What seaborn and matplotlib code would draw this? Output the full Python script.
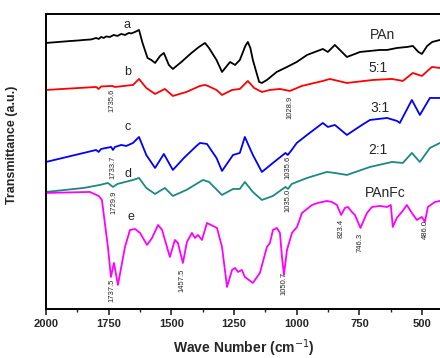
import numpy as np
import pandas as pd
import matplotlib
matplotlib.use("Agg")
import matplotlib.pyplot as plt
import seaborn as sns
from matplotlib.ticker import MultipleLocator

# FTIR spectra (wavenumber, transmittance in arbitrary units)
wn_a = [2000, 1950, 1900, 1870, 1850, 1820, 1800, 1790, 1780, 1770, 1760, 1745, 1730, 1715, 1700,
        1685, 1670, 1660, 1645, 1629, 1615, 1595, 1580, 1565, 1545, 1530, 1510, 1494, 1460, 1420,
        1390, 1366, 1350, 1320, 1298, 1266, 1246, 1227, 1205, 1195, 1185, 1175, 1150, 1139, 1119, 1080, 1039,
        1000, 959, 896, 876, 848, 820, 800, 768, 748, 708, 668, 640, 600, 560, 537, 515, 501,
        480, 460, 429]
t_a = [265, 266, 267, 267.5, 268, 268.5, 270, 269, 271, 270, 271.5, 271, 273, 272, 274,
       273, 275, 274.5, 276, 278, 265, 250, 248, 245, 252, 255, 243, 239, 246, 255,
       261, 265, 260, 248, 236, 246, 243, 248, 262, 266, 260, 248, 226, 225, 228, 236, 241,
       246, 253, 259, 256, 263, 256, 251, 254, 256, 257, 258, 258, 260, 261, 262, 256, 254,
       262, 266, 268]

wn_b = [2000, 1900, 1800, 1790, 1780, 1735, 1725, 1653, 1629, 1600, 1565, 1526, 1494, 1440,
        1386, 1366, 1354, 1320, 1298, 1258, 1227, 1195, 1170, 1139, 1107, 1067, 1027, 980,
        896, 868, 800, 696, 620, 577, 537, 501, 461, 429]
t_b = [218, 219.5, 221, 219, 221.5, 222, 221, 223, 229, 220, 214, 219, 212, 216,
       222, 223, 222, 218, 213, 218, 219, 227, 220, 216, 218, 219, 217, 222,
       227, 229, 225, 228, 229, 227, 235, 232, 241, 240]

wn_c = [2000, 1900, 1800, 1790, 1780, 1740, 1733, 1725, 1700, 1680, 1653, 1629, 1600, 1565,
        1530, 1494, 1450, 1400, 1386, 1358, 1320, 1298, 1254, 1227, 1207, 1175, 1139, 1095,
        1045, 1036, 1020, 1000, 959, 896, 876, 848, 800, 740, 708, 640, 600, 589, 541, 509,
        469, 429]
t_c = [146, 152, 158, 156, 159, 161, 158, 161, 163, 162, 165, 171, 153, 140,
       154, 138, 150, 162, 165, 164, 150, 137, 153, 155, 171, 153, 136, 145,
       155, 153, 158, 165, 173, 185, 181, 183, 173, 183, 188, 190, 187, 185, 208, 193,
       210, 210]

wn_d = [2000, 1850, 1785, 1753, 1733, 1715, 1653, 1629, 1600, 1565, 1526, 1494, 1440, 1374,
        1350, 1298, 1254, 1227, 1207, 1175, 1139, 1095, 1045, 1035, 1020, 959, 880, 848,
        800, 708, 620, 577, 541, 509, 469, 429]
t_d = [116, 120, 123, 125, 121, 124, 128, 130, 120, 114, 120, 112, 118, 128,
       126, 113, 119, 119, 126, 116, 108, 112, 121, 119, 124, 130, 136, 135,
       133, 141, 146, 145, 155, 146, 160, 165]

wn_e = [2000, 1825, 1790, 1777, 1753, 1741, 1729, 1713, 1685, 1665, 1645, 1625, 1597, 1577,
        1553, 1537, 1506, 1486, 1474, 1454, 1438, 1418, 1406, 1394, 1378, 1358, 1318, 1298,
        1278, 1258, 1246, 1234, 1219, 1207, 1175, 1147, 1119, 1107, 1095, 1079, 1067, 1059,
        1051, 1039, 1019, 999, 979, 939, 916, 880, 860, 840, 823, 808, 796, 780, 768, 746,
        720, 700, 668, 640, 625, 617, 601, 581, 569, 561, 541, 521, 501, 489, 477, 449, 429]
t_e = [115, 116, 112, 108, 61, 31, 45, 23, 61, 78, 79, 75, 63, 70,
       83, 78, 51, 68, 65, 45, 66, 75, 70, 73, 68, 85, 80, 61,
       21, 38, 40, 36, 38, 31, 25, 35, 61, 65, 78, 80, 75, 51,
       33, 58, 75, 81, 95, 103, 105, 107, 106, 103, 93, 100, 101, 96, 93, 80,
       95, 101, 102, 101, 103, 81, 90, 96, 100, 103, 95, 88, 91, 86, 101, 106, 107]

series = ["a", "b", "c", "d", "e"]
colors = ["black", "#ff0000", "#0000ff", "#1a8a80", "#ff00ff"]
letter_pos = [(1677, 283), (1673, 236), (1673, 181), (1673, 134), (1661, 91)]
names = ["PAn", "5:1", "3:1", "2:1", "PAnFc"]
name_pos = [(660, 273), (676, 240), (668, 200), (676, 158), (648, 115)]

peaks = ["1735.6", "1028.9", "1733.7", "1035.6", "1729.9", "1035.0",
         "1737.5", "1457.5", "1050.7", "823.4", "746.3", "486.0"]
peak_y = [208, 201, 141, 141, 106, 108, 18, 28, 25, 80, 66, 78]

frames = []
for s, w, t in zip(series, [wn_a, wn_b, wn_c, wn_d, wn_e], [t_a, t_b, t_c, t_d, t_e]):
    frames.append(pd.DataFrame({"wn": w, "T": t, "sample": s}))
df = pd.concat(frames, ignore_index=True)

sns.set_style("ticks")
plt.rcParams["font.family"] = ["Liberation Sans", "DejaVu Sans"]

fig = plt.figure(figsize=(4.4, 3.58), dpi=100)
ax = fig.add_axes([0.1045, 0.137, 0.9005, 0.824])

sns.lineplot(data=df, x="wn", y="T", hue="sample", palette=colors, sort=False,
             estimator=None, lw=1.3, legend=False, ax=ax)

for s, (x, y) in zip(series, letter_pos):
    ax.text(x, y, s, fontsize=9, ha="center", va="center")
for n, (x, y) in zip(names, name_pos):
    ax.text(x, y, n, fontsize=10, ha="center", va="center")
for p, y in zip(peaks, peak_y):
    ax.text(float(p), y, p, fontsize=5.5, rotation=90, ha="center", va="center")

ax.set_xlim(2000, 420)
ax.set_ylim(-1, 294)
ax.xaxis.set_major_locator(MultipleLocator(250))
ax.xaxis.set_minor_locator(MultipleLocator(125))
ax.tick_params(axis="x", which="major", direction="out", length=4, width=1.2, labelsize=8, pad=3)
ax.tick_params(axis="x", which="minor", direction="out", length=2.5, width=1.0)
for lab in ax.get_xticklabels():
    lab.set_fontweight("bold")
ax.set_yticks([])
for sp in ax.spines.values():
    sp.set_linewidth(1.4)
    sp.set_color("black")

ax.set_xlabel("Wave Number (cm$^{-1}$)", fontsize=10, fontweight="bold", labelpad=6)
ax.set_ylabel("Transmittance (a.u.)", fontsize=9, fontweight="bold")
ax.yaxis.set_label_coords(-0.07, 0.556)

fig.savefig("out.png", dpi=100)
